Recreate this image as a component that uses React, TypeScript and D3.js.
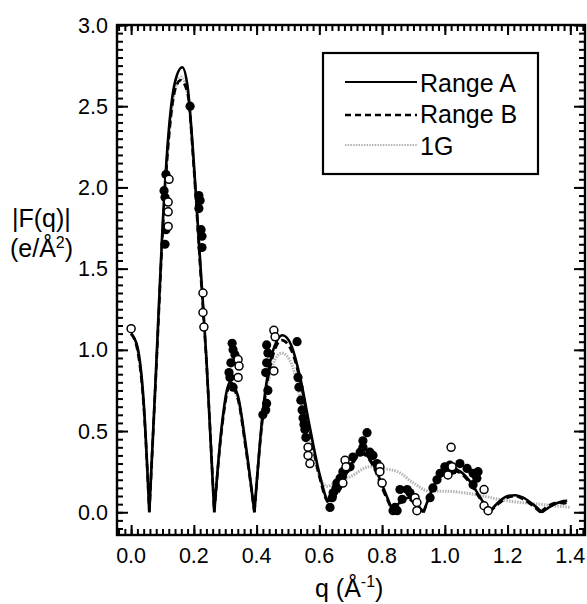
import React, { useEffect, useRef } from "react";
import * as d3 from "d3";

// Range A fit curve |F(q)|
const qA = [0.0, 0.02, 0.04, 0.058, 0.08, 0.1, 0.12, 0.14, 0.163, 0.18, 0.2, 0.22, 0.24, 0.265, 0.29, 0.315, 0.34, 0.365, 0.393, 0.42, 0.45, 0.483, 0.51, 0.54, 0.57, 0.6, 0.63, 0.66, 0.7, 0.735, 0.77, 0.8, 0.835, 0.86, 0.885, 0.91, 0.932, 0.96, 0.99, 1.02, 1.05, 1.08, 1.11, 1.142, 1.17, 1.2, 1.225, 1.25, 1.28, 1.31, 1.34, 1.37, 1.39];
const fA = [1.1, 1.02, 0.68, 0.0, 0.9, 1.75, 2.35, 2.65, 2.74, 2.62, 2.15, 1.55, 0.95, 0.0, 0.55, 0.8, 0.72, 0.42, 0.0, 0.62, 0.98, 1.09, 1.03, 0.82, 0.52, 0.24, 0.07, 0.13, 0.29, 0.37, 0.3, 0.17, 0.0, 0.07, 0.09, 0.05, 0.0, 0.14, 0.24, 0.27, 0.25, 0.19, 0.1, 0.0, 0.06, 0.1, 0.105, 0.09, 0.05, 0.0, 0.04, 0.065, 0.07];

// Range B fit curve
const qB = [0.0, 0.02, 0.04, 0.058, 0.08, 0.1, 0.12, 0.14, 0.158, 0.18, 0.2, 0.22, 0.24, 0.265, 0.29, 0.315, 0.34, 0.365, 0.393, 0.42, 0.45, 0.48, 0.51, 0.54, 0.57, 0.6, 0.63, 0.66, 0.7, 0.735, 0.77, 0.8, 0.835, 0.86, 0.885, 0.91, 0.932, 0.96, 0.99, 1.02, 1.05, 1.08, 1.11, 1.142, 1.17, 1.2, 1.225, 1.25, 1.28, 1.305, 1.33, 1.36, 1.38, 1.395];
const fB = [1.1, 1.0, 0.66, 0.0, 0.88, 1.7, 2.3, 2.6, 2.66, 2.58, 2.12, 1.52, 0.93, 0.0, 0.53, 0.78, 0.7, 0.4, 0.0, 0.6, 0.95, 1.06, 1.0, 0.8, 0.5, 0.22, 0.06, 0.12, 0.28, 0.36, 0.29, 0.15, 0.0, 0.06, 0.08, 0.04, 0.0, 0.13, 0.23, 0.26, 0.24, 0.18, 0.09, 0.0, 0.05, 0.09, 0.1, 0.08, 0.04, 0.0, 0.04, 0.06, 0.055, 0.07];

// 1G curve
const qG = [0.0, 0.02, 0.04, 0.058, 0.08, 0.1, 0.12, 0.14, 0.16, 0.18, 0.2, 0.22, 0.24, 0.265, 0.29, 0.315, 0.34, 0.365, 0.393, 0.42, 0.45, 0.48, 0.51, 0.54, 0.57, 0.6, 0.625, 0.65, 0.7, 0.76, 0.8, 0.85, 0.9, 0.95, 1.0, 1.06, 1.12, 1.2, 1.3, 1.4];
const fG = [1.1, 1.0, 0.66, 0.0, 0.88, 1.72, 2.3, 2.6, 2.68, 2.58, 2.12, 1.52, 0.92, 0.0, 0.53, 0.78, 0.7, 0.4, 0.0, 0.58, 0.9, 0.98, 0.92, 0.7, 0.45, 0.22, 0.16, 0.18, 0.22, 0.28, 0.27, 0.25, 0.18, 0.13, 0.13, 0.12, 0.1, 0.07, 0.05, 0.03];

// Filled data points
const filledQ = [0.111, 0.105, 0.108, 0.111, 0.108, 0.188, 0.216, 0.22, 0.216, 0.223, 0.226, 0.226, 0.322, 0.325, 0.331, 0.318, 0.312, 0.315, 0.325, 0.432, 0.436, 0.432, 0.429, 0.436, 0.432, 0.429, 0.42, 0.529, 0.532, 0.535, 0.541, 0.545, 0.548, 0.551, 0.554, 0.557, 0.634, 0.644, 0.653, 0.666, 0.675, 0.656, 0.641, 0.698, 0.707, 0.73, 0.739, 0.739, 0.752, 0.761, 0.771, 0.784, 0.835, 0.848, 0.857, 0.88, 0.889, 0.864, 0.841, 0.953, 0.962, 0.975, 0.985, 1.0, 1.016, 1.026, 1.048, 1.071, 1.09, 1.106, 1.102, 1.09];
const filledF = [2.08, 1.98, 1.94, 1.74, 1.65, 2.5, 1.95, 1.92, 1.87, 1.74, 1.7, 1.63, 1.04, 1.0, 0.97, 0.92, 0.86, 0.83, 0.77, 1.03, 0.98, 0.92, 0.86, 0.75, 0.67, 0.63, 0.6, 1.05, 0.83, 0.77, 0.69, 0.63, 0.58, 0.54, 0.51, 0.46, 0.03, 0.12, 0.15, 0.21, 0.25, 0.18, 0.09, 0.28, 0.34, 0.37, 0.4, 0.44, 0.49, 0.37, 0.35, 0.3, 0.01, 0.01, 0.14, 0.14, 0.12, 0.08, 0.03, 0.09, 0.15, 0.2, 0.24, 0.28, 0.29, 0.26, 0.3, 0.27, 0.24, 0.25, 0.21, 0.17];

// Open data points
const openQ = [0.0, 0.121, 0.118, 0.118, 0.118, 0.229, 0.229, 0.232, 0.341, 0.344, 0.341, 0.455, 0.459, 0.455, 0.564, 0.564, 0.57, 0.682, 0.685, 0.675, 0.793, 0.793, 0.8, 0.905, 0.911, 0.911, 1.02, 1.023, 1.01, 1.125, 1.125, 1.138];
const openF = [1.13, 2.05, 1.91, 1.85, 1.76, 1.35, 1.23, 1.14, 0.94, 0.9, 0.83, 1.12, 1.08, 0.87, 0.4, 0.35, 0.3, 0.32, 0.28, 0.18, 0.28, 0.25, 0.18, 0.09, 0.06, 0.01, 0.4, 0.28, 0.23, 0.14, 0.04, 0.01];

const xTicks = [0.0, 0.2, 0.4, 0.6, 0.8, 1.0, 1.2, 1.4];
const yTicks = [0.0, 0.5, 1.0, 1.5, 2.0, 2.5, 3.0];
const legendLabels = ["Range A", "Range B", "1G"];

const W = 587;
const H = 604;
const L = 117, R = 585, T = 25, B = 535;
const FONT = "'Liberation Sans', Arial, Helvetica, sans-serif";

const x = d3.scaleLinear().domain([-0.045, 1.45]).range([L, R + 1]);
const y = d3.scaleLinear().domain([-0.14, 3.0]).range([B, T]);

function lobes(qs: number[], fs: number[]) {
  const segs: [number, number][][] = [];
  let cur: [number, number][] = [];
  qs.forEach((q, i) => {
    cur.push([q, fs[i]]);
    if (fs[i] === 0 && cur.length > 1) {
      segs.push(cur);
      cur = [[q, fs[i]]];
    }
  });
  if (cur.length > 1) segs.push(cur);
  return segs;
}

const lineGen = d3
  .line<[number, number]>()
  .x((d) => x(d[0]))
  .y((d) => y(d[1]))
  .curve(d3.curveMonotoneX);

function curvePath(qs: number[], fs: number[]) {
  return lobes(qs, fs)
    .map((s) => lineGen(s) || "")
    .join("");
}

const minorXVals = d3.range(0, 75).map((i) => +(-0.04 + i * 0.02).toFixed(2));
const minorYVals = d3.range(0, 63).map((i) => +(-0.1 + i * 0.05).toFixed(2));

export default function App() {
  const axRef = useRef<SVGGElement>(null);

  useEffect(() => {
    const g = d3.select(axRef.current);
    g.selectAll("*").remove();
    const style = (sel: any) => {
      sel.select(".domain").remove();
      sel.selectAll("text").remove();
      sel.selectAll("line").attr("stroke", "#000").attr("stroke-width", 2);
    };
    // bottom
    g.append("g").attr("transform", `translate(0,${B})`).call(d3.axisBottom(x).tickValues(minorXVals).tickSize(-6)).call(style);
    g.append("g").attr("transform", `translate(0,${B})`).call(d3.axisBottom(x).tickValues(xTicks).tickSize(-10)).call(style);
    // top
    g.append("g").attr("transform", `translate(0,${T})`).call(d3.axisTop(x).tickValues(minorXVals).tickSize(-6)).call(style);
    g.append("g").attr("transform", `translate(0,${T})`).call(d3.axisTop(x).tickValues(xTicks).tickSize(-10)).call(style);
    // left
    g.append("g").attr("transform", `translate(${L},0)`).call(d3.axisLeft(y).tickValues(minorYVals).tickSize(-6)).call(style);
    g.append("g").attr("transform", `translate(${L},0)`).call(d3.axisLeft(y).tickValues(yTicks).tickSize(-11)).call(style);
    // right
    g.append("g").attr("transform", `translate(${R},0)`).call(d3.axisRight(y).tickValues(minorYVals).tickSize(-6)).call(style);
    g.append("g").attr("transform", `translate(${R},0)`).call(d3.axisRight(y).tickValues(yTicks).tickSize(-11)).call(style);
  }, []);

  return (
    <svg width={W} height={H} style={{ position: "absolute", left: 0, top: 0 }}>
      <path d={curvePath(qG, fG)} fill="none" stroke="#b4b4b4" strokeWidth={3} strokeDasharray="1.5,1.2" />
      <path d={curvePath(qB, fB)} fill="none" stroke="#000" strokeWidth={2.6} strokeDasharray="7,4" />
      <path d={curvePath(qA, fA)} fill="none" stroke="#000" strokeWidth={2.6} />
      {filledQ.map((q, i) => (
        <circle key={"f" + i} cx={x(q)} cy={y(filledF[i])} r={4.6} fill="#000" />
      ))}
      {openQ.map((q, i) => (
        <circle key={"o" + i} cx={x(q)} cy={y(openF[i])} r={4} fill="#fff" stroke="#000" strokeWidth={1.5} />
      ))}
      <rect x={L} y={T} width={R - L} height={B - T} fill="none" stroke="#000" strokeWidth={2.4} />
      <g ref={axRef} />
      <g fontFamily={FONT} fill="#000">
        {xTicks.map((t) => (
          <text key={"xl" + t} x={x(t)} y={B + 28} textAnchor="middle" fontSize={21.5}>
            {t.toFixed(1)}
          </text>
        ))}
        {yTicks.map((t) => (
          <text key={"yl" + t} x={L - 9} y={y(t)} dy="0.35em" textAnchor="end" fontSize={21.5}>
            {t.toFixed(1)}
          </text>
        ))}
        <text x={12} y={227} fontSize={25}>|F(q)|</text>
        <text x={10} y={257} fontSize={25}>
          (e/Å<tspan dy={-9} fontSize={16}>2</tspan><tspan dy={9}>)</tspan>
        </text>
        <text x={315} y={597} fontSize={25}>
          q (Å<tspan dy={-10} fontSize={16}>-1</tspan><tspan dy={10}>)</tspan>
        </text>
      </g>
      <rect x={323} y={53} width={215} height={121} fill="#fff" stroke="#000" strokeWidth={2.2} />
      <line x1={345} x2={417} y1={82} y2={82} stroke="#000" strokeWidth={2} />
      <line x1={345} x2={417} y1={115} y2={115} stroke="#000" strokeWidth={2.4} strokeDasharray="6,4" />
      <line x1={345} x2={417} y1={145} y2={145} stroke="#b4b4b4" strokeWidth={2} strokeDasharray="1.5,1.2" />
      <g fontFamily={FONT} fill="#000">
        {legendLabels.map((lab, i) => (
          <text key={lab} x={420} y={[92, 123, 155][i]} fontSize={25}>
            {lab}
          </text>
        ))}
      </g>
    </svg>
  );
}
